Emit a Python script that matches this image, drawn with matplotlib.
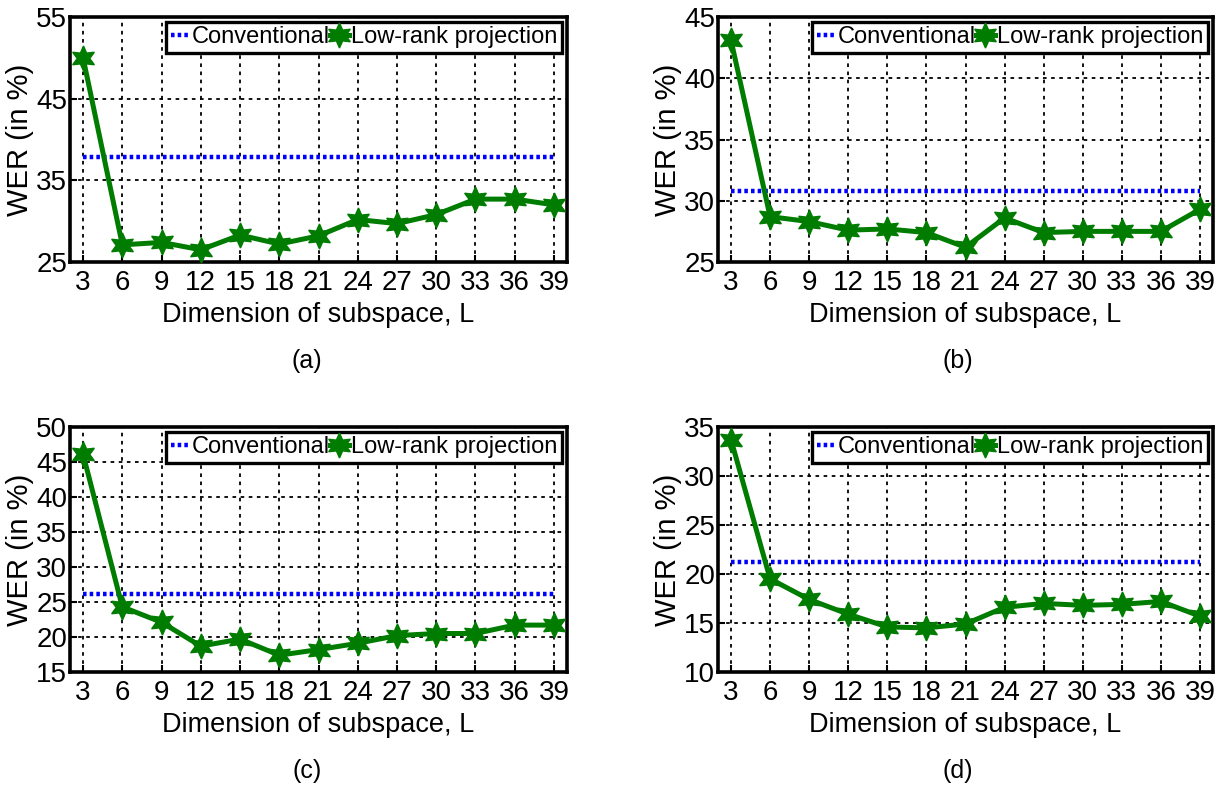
import matplotlib
matplotlib.use("Agg")
import matplotlib.pyplot as plt

plt.rcParams['font.family'] = ['Liberation Sans', 'DejaVu Sans']

# Subspace dimensions
dims = [3, 6, 9, 12, 15, 18, 21, 24, 27, 30, 33, 36, 39]

# WER of the low-rank projection for each setting
wer_a = [50.0, 27.1, 27.4, 26.5, 28.3, 27.2, 28.2, 30.2, 29.7, 30.8, 32.7, 32.7, 32.0]
wer_b = [43.1, 28.7, 28.3, 27.6, 27.7, 27.4, 26.2, 28.6, 27.4, 27.5, 27.5, 27.5, 29.3]
wer_c = [46.1, 24.3, 22.1, 18.7, 19.7, 17.4, 18.2, 19.1, 20.2, 20.5, 20.5, 21.7, 21.7]
wer_d = [33.7, 19.5, 17.4, 15.9, 14.6, 14.5, 14.9, 16.6, 17.0, 16.8, 16.9, 17.2, 15.7]

# WER of the conventional system
conv_a = 37.8
conv_b = 30.8
conv_c = 26.2
conv_d = 21.2

# y-axis ranges and ticks
ylims = [(25, 55), (25, 45), (15, 50), (10, 35)]
yticks = [[25, 35, 45, 55], [25, 30, 35, 40, 45],
          [15, 20, 25, 30, 35, 40, 45, 50], [10, 15, 20, 25, 30, 35]]
panel_tags = ['(a)', '(b)', '(c)', '(d)']

W, H = 1225, 787
fig = plt.figure(figsize=(W / 100, H / 100), dpi=100)

boxes = [(70, 17, 567, 262), (718, 17, 1213, 262),
         (70, 427, 567, 672), (718, 427, 1213, 672)]
tag_pos = [(307, 361), (958, 361), (307, 771), (958, 771)]

green = '#007c00'
blue = '#0000ff'
star = (6, 1, 0)

series = [(wer_a, conv_a), (wer_b, conv_b), (wer_c, conv_c), (wer_d, conv_d)]

for i, ((wer, conv), (x0, y0, x1, y1)) in enumerate(zip(series, boxes)):
    ax = fig.add_axes([x0 / W, 1 - y1 / H, (x1 - x0) / W, (y1 - y0) / H])
    ax.plot(dims, [conv] * len(dims), color=blue, lw=3.2,
            linestyle=(0, (0.8, 0.7)), label='Conventional', zorder=3)
    ax.plot(dims, wer, color=green, lw=3.6, marker=star, markersize=18,
            markerfacecolor=green, markeredgecolor=green,
            label='Low-rank projection', zorder=4, clip_on=False)
    ax.set_xlim(2, 40)
    ax.set_ylim(*ylims[i])
    ax.set_xticks(dims)
    ax.set_yticks(yticks[i])
    ax.grid(True, color='black', linestyle=(0, (2, 2.5)), linewidth=1.3)
    ax.set_axisbelow(True)
    for sp in ax.spines.values():
        sp.set_linewidth(2.6)
    ax.tick_params(direction='in', length=5, width=1.5, labelsize=20)
    ax.tick_params(axis='x', pad=6)
    ax.tick_params(axis='y', pad=2)
    ax.set_xlabel('Dimension of subspace, L', fontsize=19.5, labelpad=4)
    ax.set_ylabel('WER (in %)', fontsize=21)
    ax.yaxis.set_label_coords(-0.072, 0.5)
    leg = ax.legend(loc='upper right', ncol=2, fontsize=17, frameon=True,
                    fancybox=False, edgecolor='black', framealpha=1,
                    handlelength=0.8, handletextpad=0.1, columnspacing=0.0,
                    borderpad=0.2, borderaxespad=0.2, markerscale=1.0)
    leg.get_frame().set_linewidth(2.4)
    fig.text(tag_pos[i][0] / W, 1 - tag_pos[i][1] / H, panel_tags[i],
             fontsize=18, ha='center', va='center')

fig.savefig('out.png', dpi=100)
